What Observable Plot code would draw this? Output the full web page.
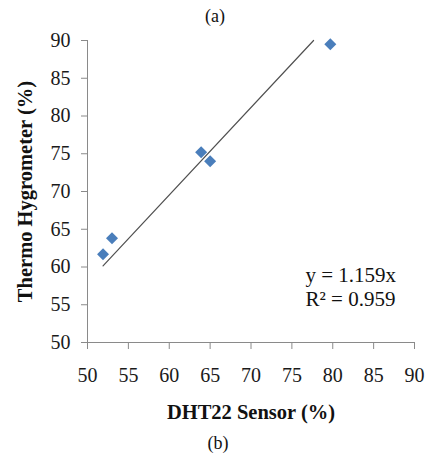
<!DOCTYPE html>
<html>
<head>
<meta charset="utf-8">
<script src="https://cdn.jsdelivr.net/npm/d3@7"></script>
<script src="https://cdn.jsdelivr.net/npm/@observablehq/plot@0.6"></script>
<style>
  body { margin: 0; background: #fff; font-family: "Liberation Serif", "Times New Roman", serif; }
  .cap { width: 430px; text-align: center; font-size: 18px; color: #111; }
  #top { height: 30px; line-height: 32px; }
  #bottom { height: 23px; line-height: 26px; padding-left: 3px; }
</style>
</head>
<body>
<div class="cap" id="top">(a)</div>
<div id="chart"></div>
<div class="cap" id="bottom">(b)</div>
<script>
const dhtSensor = [51.9, 53.0, 63.9, 65.0, 79.7];
const thermoHygrometer = [61.7, 63.8, 75.2, 74.0, 89.5];
const xTicks = [50, 55, 60, 65, 70, 75, 80, 85, 90];
const yTicks = [50, 55, 60, 65, 70, 75, 80, 85, 90];
const slope = 1.159;
const r2 = 0.959;
const xTitle = "DHT22 Sensor (%)";
const yTitle = "Thermo Hygrometer (%)";

const points = dhtSensor.map((x, i) => ({x, y: thermoHygrometer[i]}));
const x0 = d3.min(dhtSensor);
const x1 = d3.max(yTicks) / slope;
const trend = [x0, x1].map(x => ({x, y: slope * x}));
const eq = `y = ${slope}x\nR\u00B2 = ${r2}`;

const font = "Liberation Serif, Times New Roman, serif";
const axisGray = "#8a8a8a";

const chart = Plot.plot({
  width: 430,
  height: 400,
  marginTop: 10,
  marginBottom: 88,
  marginLeft: 87,
  marginRight: 16,
  style: {fontFamily: font, fontSize: "20px", color: "#1a1a1a", background: "#fff"},
  x: {domain: [50, 90], label: null},
  y: {domain: [50, 90], label: null},
  marks: [
    Plot.ruleX([50], {stroke: axisGray}),
    Plot.ruleY([50], {stroke: axisGray}),
    Plot.axisX({ticks: xTicks, tickSize: 7, stroke: axisGray, tickFormat: () => "", label: null}),
    Plot.axisY({ticks: yTicks, tickSize: 6, stroke: axisGray, tickFormat: () => "", label: null}),
    Plot.axisX({ticks: xTicks, tickSize: 0, tickPadding: 25, fill: "#1a1a1a", fontSize: 20, label: null}),
    Plot.axisY({ticks: yTicks, tickSize: 0, tickPadding: 17, fill: "#1a1a1a", fontSize: 20, label: null}),
    Plot.line(trend, {x: "x", y: "y", stroke: "#505050", strokeWidth: 1.2}),
    Plot.dot(points, {x: "x", y: "y", symbol: "diamond2", r: 5.4, fill: "#4a7ebb", stroke: "none"}),
    Plot.text([eq], {frameAnchor: "bottom-left", dx: 218, dy: -56, textAnchor: "start", lineAnchor: "middle", lineHeight: 1.15, fontSize: 21, fill: "#111"}),
    Plot.text([xTitle], {frameAnchor: "bottom", dy: 70, lineAnchor: "middle", fontWeight: "bold", fontSize: 20.5, fill: "#111"}),
    Plot.text([yTitle], {frameAnchor: "left", dx: -62, rotate: -90, textAnchor: "middle", lineAnchor: "middle", fontWeight: "bold", fontSize: 20.5, fill: "#111"})
  ]
});
document.getElementById("chart").appendChild(chart);
</script>
</body>
</html>
